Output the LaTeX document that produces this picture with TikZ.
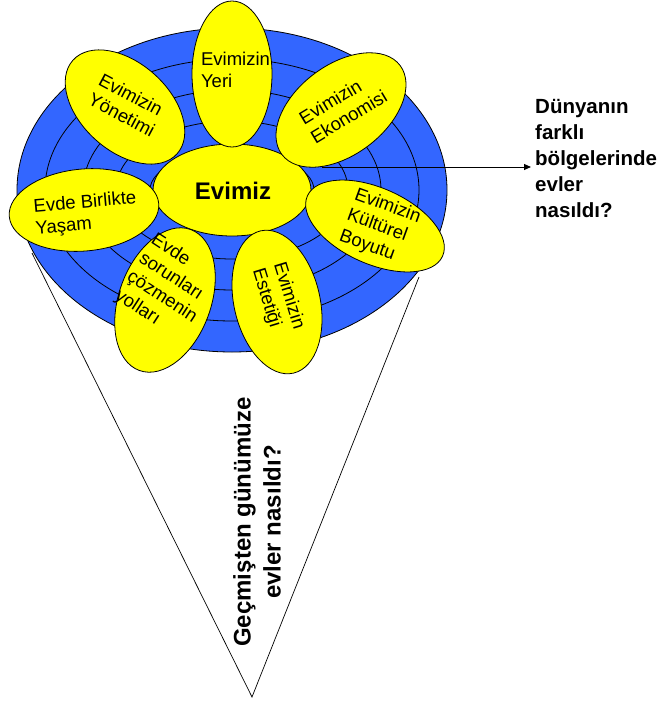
\documentclass[tikz,border=0pt]{standalone}
\usepackage{fontspec}
\setmainfont{Liberation Sans}
\usetikzlibrary{shapes.geometric,arrows.meta}
\definecolor{ringblue}{RGB}{51,102,255}
\definecolor{petalyellow}{RGB}{255,255,0}
\begin{document}
\begin{tikzpicture}[x=1pt,y=-1pt,
  petal/.style={ellipse, draw=black, line width=0.8pt, fill=petalyellow, inner sep=0pt},
  ptext/.style={font=\fontsize{18.5}{22}\selectfont, align=left, inner sep=0pt},
  ring/.style={draw=black, line width=0.8pt},
  btext/.style={font=\bfseries\fontsize{20.5}{26}\selectfont, align=left, inner sep=0pt},
  cone/.style={draw=black, line width=0.7pt},
  ]
\useasboundingbox (0,0) rectangle (664,702);
% cone
\coordinate (apex) at (252,697);
\coordinate (coneL) at (32,253);
\coordinate (coneR) at (419,277);
\draw[cone] (coneL) -- (apex) -- (coneR);
% blue target
\node[ellipse, draw=black, line width=0.8pt, fill=ringblue, minimum width=430pt, minimum height=324pt, inner sep=0pt] (base) at (232,190) {};
\draw[ring] (base.center) ellipse [x radius=187pt, y radius=131pt];
\draw[ring] (base.center) ellipse [x radius=149pt, y radius=100pt];
\draw[ring] (base.center) ellipse [x radius=116pt, y radius=69pt];
\draw[ring] (base.center) ellipse [x radius=82pt, y radius=38pt];
% arrow
\coordinate (arS) at (322,167);
\node[btext, anchor=north west] (world) at (535,99) {Dünyanın\\farklı\\bölgelerinde\\evler\\nasıldı?};
\coordinate (arE) at (531,167);
\draw[line width=1pt, -{Triangle[length=7pt,width=6pt]}] (arS) -- (arE);
% petals
\node[petal, minimum width=158pt, minimum height=92pt] (evimiz) at (232,190) {};
\node[petal, minimum width=80pt, minimum height=146pt] (yeri) at (232,74) {};
\node[petal, minimum width=140pt, minimum height=88pt, rotate=-42] (yonetim) at (125,107) {};
\node[petal, minimum width=148pt, minimum height=90pt, rotate=37] (ekonomi) at (341,110) {};
\node[petal, minimum width=150pt, minimum height=82pt, rotate=5] (birlik) at (84,210) {};
\node[petal, minimum width=148pt, minimum height=76pt, rotate=-24] (kultur) at (375,226) {};
\node[petal, minimum width=92pt, minimum height=150pt, rotate=-20] (sorun) at (165,300) {};
\node[petal, minimum width=146pt, minimum height=86pt, rotate=-77] (estetik) at (277,302) {};
% texts
\node[font=\bfseries\fontsize{24}{29}\selectfont, inner sep=0pt] (tevimiz) at (233,191) {Evimiz};
\node[ptext] (tyeri) at (235.5,69.5) {Evimizin\\Yeri};
\node[ptext, rotate=-28] (tyonetim) at (127,105) {Evimizin\\Yönetimi};
\node[ptext, rotate=31] (tekonomi) at (343,107) {Evimizin\\Ekonomisi};
\node[ptext, rotate=5] (tbirlik) at (86,214) {Evde Birlikte\\Yaşam};
\node[ptext, rotate=-20] (tkultur) at (380,227) {Evimizin\\Kültürel\\Boyutu};
\node[ptext, rotate=-33] (tsorun) at (168,288) {Evde\\sorunları\\çözmenin\\yolları};
\node[ptext, rotate=-73] (testetik) at (278,299) {Evimizin\\Estetiği};
% bottom question
\node[font=\bfseries\fontsize{24}{30}\selectfont, align=center, inner sep=0pt, rotate=90] (past) at (257,522) {Geçmişten günümüze\\evler nasıldı?};
\end{tikzpicture}
\end{document}
